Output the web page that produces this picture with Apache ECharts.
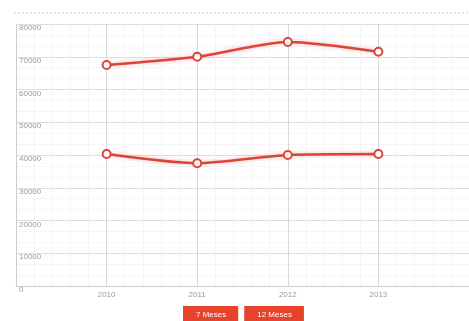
<!DOCTYPE html>
<html>
<head>
<meta charset="utf-8">
<script src="https://cdn.jsdelivr.net/npm/echarts@6/dist/echarts.min.js"></script>
<style>
html,body{margin:0;padding:0;background:#fff;}
#chart{width:469px;height:321px;}
</style>
</head>
<body>
<div id="chart"></div>
<script>
var years = [2010, 2011, 2012, 2013];
var seriesNames = ['7 Meses', '12 Meses'];
var values7 = [67500, 70000, 74500, 71500];
var values12 = [40300, 37500, 40000, 40300];
var yTicks = [0, 10000, 20000, 30000, 40000, 50000, 60000, 70000, 80000];

function pairs(vals) {
  return years.map(function (y, i) { return [y, vals[i]]; });
}

var chart = echarts.init(document.getElementById('chart'), null, {renderer: 'canvas'});
var red = '#dc4437';
var option = {
  animation: false,
  textStyle: {fontFamily: 'Liberation Sans'},
  grid: {left: 16, right: -2, top: 24, bottom: 35, containLabel: false},
  graphic: [{
    type: 'line',
    shape: {x1: 14, y1: 13, x2: 469, y2: 13},
    style: {stroke: '#cfcfcf', lineWidth: 1, lineDash: [2, 2]}
  }],
  xAxis: {
    type: 'value',
    min: 2009, max: 2014, interval: 1,
    axisLine: {show: true, lineStyle: {color: '#cccccc'}},
    axisTick: {show: false},
    axisLabel: {
      color: '#999999', fontSize: 8, margin: 5,
      showMinLabel: false, showMaxLabel: false,
      formatter: function (v) { return String(v); }
    },
    splitLine: {show: true, lineStyle: {color: '#d8d8d8'}},
    minorTick: {show: false, splitNumber: 5},
    minorSplitLine: {show: true, lineStyle: {color: '#f5f5f5'}}
  },
  yAxis: {
    type: 'value',
    min: yTicks[0], max: yTicks[yTicks.length - 1], interval: yTicks[1] - yTicks[0],
    axisLine: {show: true, lineStyle: {color: '#cccccc'}},
    axisTick: {show: false},
    axisLabel: {
      inside: true, color: '#999999', fontSize: 8, margin: 3,
      verticalAlign: 'top',
      formatter: function (v) { return v === 0 ? '{z|0}' : String(v); },
      rich: {z: {fontSize: 8, color: '#999999', padding: [0, 0, 10, 0]}}
    },
    splitLine: {show: true, lineStyle: {color: '#dddddd'}},
    minorTick: {show: false, splitNumber: 3},
    minorSplitLine: {show: true, lineStyle: {color: '#f6f6f6'}}
  },
  legend: {
    bottom: -8, left: 173,
    itemWidth: 0, itemHeight: 0, itemGap: 1,
    icon: 'none',
    textStyle: {
      color: '#ffffff', fontSize: 8, backgroundColor: '#e8412c',
      padding: [4, 12, 6, 13]
    },
    data: seriesNames
  },
  series: [
    {
      name: seriesNames[0], type: 'line', data: pairs(values7),
      smooth: 0.25, symbol: 'emptyCircle', symbolSize: 8,
      lineStyle: {color: red, width: 2.5, shadowColor: 'rgba(240,120,120,0.5)', shadowBlur: 4},
      itemStyle: {color: red, borderWidth: 2}
    },
    {
      name: seriesNames[1], type: 'line', data: pairs(values12),
      smooth: 0.25, symbol: 'emptyCircle', symbolSize: 8,
      lineStyle: {color: red, width: 2.5, shadowColor: 'rgba(240,120,120,0.5)', shadowBlur: 4},
      itemStyle: {color: red, borderWidth: 2}
    }
  ]
};
chart.setOption(option);
</script>
</body>
</html>
